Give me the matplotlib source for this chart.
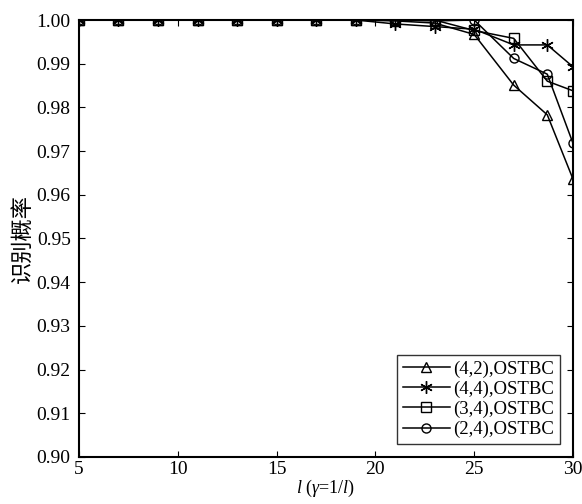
import matplotlib
matplotlib.use("Agg")
import matplotlib.pyplot as plt

plt.rcParams['font.family'] = ['Liberation Serif', 'Noto Sans CJK SC']
plt.rcParams['mathtext.fontset'] = 'custom'
plt.rcParams['mathtext.rm'] = 'Liberation Serif'
plt.rcParams['mathtext.it'] = 'Liberation Serif:italic'

# SNR index l and recognition probability for each antenna configuration
l_values = [5, 7, 9, 11, 13, 15, 17, 19, 21, 23, 25, 27, 28.7, 30]
p_42 = [1.0, 1.0, 1.0, 1.0, 1.0, 1.0, 1.0, 1.0, 0.9998, 0.9993, 0.9967, 0.9851, 0.9783, 0.9636]
p_44 = [1.0, 1.0, 1.0, 1.0, 1.0, 1.0, 1.0, 1.0, 0.9991, 0.9985, 0.9979, 0.9943, 0.9943, 0.9893]
p_34 = [1.0, 1.0, 1.0, 1.0, 1.0, 1.0, 1.0, 1.0, 1.0, 1.0, 0.9976, 0.9958, 0.9860, 0.9838]
p_24 = [1.0, 1.0, 1.0, 1.0, 1.0, 1.0, 1.0, 1.0, 1.0, 0.9998, 1.0, 0.9912, 0.9876, 0.9718]

series = [
    (p_42, '^', 6.5, '(4,2),OSTBC'),
    (p_44, (6, 2, 0), 9, '(4,4),OSTBC'),
    (p_34, 's', 6.5, '(3,4),OSTBC'),
    (p_24, 'o', 6.5, '(2,4),OSTBC'),
]

x_ticks = [5, 10, 15, 20, 25, 30]
y_ticks = [0.90, 0.91, 0.92, 0.93, 0.94, 0.95, 0.96, 0.97, 0.98, 0.99, 1.00]

fig = plt.figure(figsize=(5.82, 5.04), dpi=100)
ax = fig.add_axes([0.1357, 0.0933, 0.8488, 0.8670])

for vals, mk, ms, lab in series:
    ax.plot(l_values, vals, color='black', linewidth=1.1, marker=mk,
            markersize=ms, markerfacecolor='none', markeredgecolor='black',
            markeredgewidth=1.0, label=lab)

ax.set_xlim(5, 30)
ax.set_ylim(0.90, 1.00)
ax.set_xticks(x_ticks)
ax.set_yticks(y_ticks)
ax.set_yticklabels([f'{v:.2f}' for v in y_ticks])
ax.tick_params(direction='in', length=4, width=0.8, labelsize=14,
               top=True, right=True, pad=6)
ax.tick_params(axis='x', pad=3)
for sp in ax.spines.values():
    sp.set_linewidth(1.5)

ax.set_xlabel(r'$l$ ($\gamma$=1/$l$)', fontsize=13, labelpad=0)
ax.set_ylabel('识别概率', fontsize=16, family=['Noto Sans CJK SC', 'DejaVu Sans'],
              labelpad=2)

leg = ax.legend(loc='lower right', fontsize=13.5, frameon=True, fancybox=False,
                edgecolor='black', handlelength=2.5, borderaxespad=0.7,
                handletextpad=0.2, labelspacing=0.15, borderpad=0.3)
leg.get_frame().set_linewidth(1.0)

fig.savefig('out.png', dpi=100)
